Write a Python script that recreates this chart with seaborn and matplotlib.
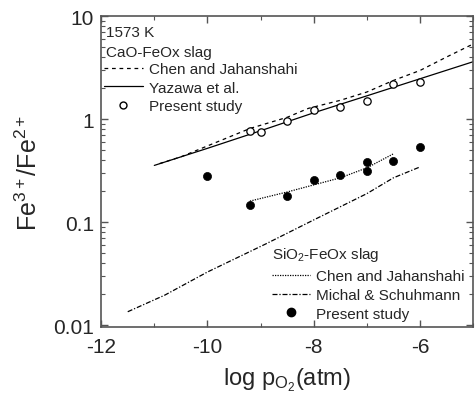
import numpy as np
import pandas as pd
import matplotlib
matplotlib.use("Agg")
import matplotlib.pyplot as plt
import seaborn as sns
from matplotlib.ticker import FixedLocator, FixedFormatter, LogLocator, NullFormatter
from matplotlib.lines import Line2D

# ---- data ----
cao_exp_x = [-9.2, -9.0, -8.5, -8.0, -7.5, -7.0, -6.5, -6.0]
cao_exp_y = [0.77, 0.745, 0.96, 1.23, 1.32, 1.51, 2.2, 2.27]

sio2_exp_x = [-10.0, -9.2, -8.5, -8.0, -7.5, -7.0, -7.0, -6.5, -6.0]
sio2_exp_y = [0.283, 0.146, 0.179, 0.257, 0.288, 0.386, 0.314, 0.395, 0.54]

yazawa_x = [-11.0, -10.0, -9.0, -8.0, -7.0, -6.0, -5.0]
yazawa_y = [0.355, 0.52, 0.77, 1.15, 1.68, 2.46, 3.6]

chen_cao_x = [-10.9, -10.5, -9.2, -8.5, -8.1, -7.5, -7.0, -6.5, -6.0, -5.5, -5.0]
chen_cao_y = [0.37, 0.43, 0.81, 1.04, 1.27, 1.52, 1.83, 2.37, 2.96, 4.0, 5.35]

chen_sio2_x = [-9.2, -8.5, -7.5, -7.0, -6.5]
chen_sio2_y = [0.16, 0.196, 0.269, 0.336, 0.46]

michal_x = [-11.5, -10.8, -10.0, -8.9, -8.0, -7.0, -6.5, -6.0]
michal_y = [0.0135, 0.0196, 0.0328, 0.0615, 0.105, 0.189, 0.269, 0.343]

x_ticks = [-12, -10, -8, -6]
x_tick_labels = ["-12", "-10", "-8", "-6"]
y_ticks = [0.01, 0.1, 1, 10]
y_tick_labels = ["0.01", "0.1", "1", "10"]

# ---- style ----
sns.set_style("ticks")
plt.rcParams["font.family"] = ["Liberation Sans", "DejaVu Sans"]
plt.rcParams["axes.unicode_minus"] = False
plt.rcParams["mathtext.fontset"] = "custom"
plt.rcParams["mathtext.rm"] = "Liberation Sans"
plt.rcParams["mathtext.it"] = "Liberation Sans"
plt.rcParams["mathtext.bf"] = "Liberation Sans"

fig = plt.figure(figsize=(4.75, 4.1), dpi=100)
ax = fig.add_axes([0.213, 0.2, 0.783, 0.7585])

k = "black"
sns.lineplot(x=chen_cao_x, y=chen_cao_y, ax=ax, color=k, lw=0.9,
             linestyle=(0, (3, 3)), sort=False)
sns.lineplot(x=yazawa_x, y=yazawa_y, ax=ax, color=k, lw=0.9, sort=False)
sns.lineplot(x=chen_sio2_x, y=chen_sio2_y, ax=ax, color=k, lw=0.9,
             linestyle=(0, (1, 1)), sort=False)
sns.lineplot(x=michal_x, y=michal_y, ax=ax, color=k, lw=0.9,
             linestyle=(0, (4, 1.5, 1, 1.5)), sort=False)
sns.scatterplot(x=cao_exp_x, y=cao_exp_y, ax=ax, marker="o", s=28,
                facecolor="white", edgecolor=k, linewidth=0.9, zorder=5)
sns.scatterplot(x=sio2_exp_x, y=sio2_exp_y, ax=ax, marker="o", s=34,
                color=k, edgecolor=k, linewidth=0.5, zorder=5)

ax.set_yscale("log")
ax.set_xlim(-12, -5)
ax.set_ylim(0.0096, 10)

ax.xaxis.set_major_locator(FixedLocator(x_ticks))
ax.xaxis.set_major_formatter(FixedFormatter(x_tick_labels))
ax.xaxis.set_minor_locator(FixedLocator([-11, -9, -7, -5]))
ax.yaxis.set_major_locator(FixedLocator(y_ticks))
ax.yaxis.set_major_formatter(FixedFormatter(y_tick_labels))
ax.yaxis.set_minor_locator(LogLocator(base=10, subs=np.arange(2, 10)))
ax.yaxis.set_minor_formatter(NullFormatter())

spine_c = "#555555"
for sp in ax.spines.values():
    sp.set_visible(True)
    sp.set_color(spine_c)
    sp.set_linewidth(1.2)
ax.tick_params(which="both", direction="in", top=True, right=True,
               color=spine_c)
ax.tick_params(which="major", length=5, width=1, labelsize=15)
ax.tick_params(axis="x", which="major", pad=7)
ax.tick_params(axis="y", which="major", pad=5)
ax.tick_params(which="minor", length=3, width=0.8)

ax.set_ylabel(r"Fe$^{3+}$/Fe$^{2+}$", fontsize=18, labelpad=8)
ax.set_xlabel(r"log p$_{\mathregular{O_2}}$(atm)", fontsize=17, labelpad=7)

# ---- annotations / legends ----
fs = 11
ax.text(0.012, 0.95, "1573 K", transform=ax.transAxes, fontsize=fs, va="center")
ax.text(0.012, 0.885, "CaO-FeOx slag", transform=ax.transAxes, fontsize=fs, va="center")

h1 = [Line2D([], [], color=k, lw=0.9, linestyle=(0, (3, 3))),
      Line2D([], [], color=k, lw=0.9),
      Line2D([], [], color=k, lw=0, marker="o", markersize=5,
             markerfacecolor="white", markeredgecolor=k)]
leg1 = ax.legend(h1, ["Chen and Jahanshahi", "Yazawa et al.", "Present study"],
                 loc="upper left", bbox_to_anchor=(-0.01, 0.872), frameon=False,
                 fontsize=fs, handlelength=2.6, handletextpad=0.35,
                 labelspacing=0.3, borderaxespad=0.0)
ax.add_artist(leg1)

ax.text(0.458, 0.235, r"SiO$_2$-FeOx slag", transform=ax.transAxes,
        fontsize=fs, va="center")
h2 = [Line2D([], [], color=k, lw=0.9, linestyle=(0, (1, 1))),
      Line2D([], [], color=k, lw=0.9, linestyle=(0, (4, 1.5, 1, 1.5))),
      Line2D([], [], color=k, lw=0, marker="o", markersize=6,
             markerfacecolor=k, markeredgecolor=k)]
leg2 = ax.legend(h2, ["Chen and Jahanshahi", "Michal & Schuhmann", "Present study"],
                 loc="upper left", bbox_to_anchor=(0.443, 0.205), frameon=False,
                 fontsize=fs, handlelength=2.5, handletextpad=0.35,
                 labelspacing=0.3, borderaxespad=0.0)

fig.savefig("out.png", dpi=100)
